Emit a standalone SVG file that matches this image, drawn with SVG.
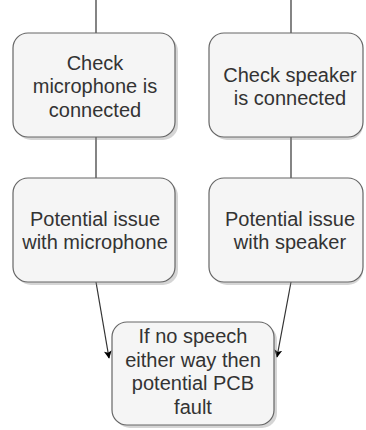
<svg xmlns="http://www.w3.org/2000/svg" width="366" height="430" viewBox="0 0 366 430">
<defs>
<style>
.box{fill:#f5f5f5;stroke:#666666;stroke-width:1.2}
.sh{fill:#888888;opacity:0.35}
.t{font-family:"Liberation Sans",Arial,sans-serif;font-size:20px;fill:#333333;text-anchor:middle}
.ln{stroke:#333333;stroke-width:1.2;fill:none}
</style>
<marker id="ah" viewBox="0 0 10 10" refX="9" refY="5" markerWidth="8" markerHeight="8" orient="auto" markerUnits="userSpaceOnUse">
<path d="M0,0 L10,5 L0,10 L2.5,5 Z" fill="#000000"/>
</marker>
</defs>
<rect width="366" height="430" fill="#ffffff"/>
<g id="connectors">
<line class="ln" x1="96" y1="0" x2="96" y2="33"/>
<line class="ln" x1="291" y1="0" x2="291" y2="33"/>
<line class="ln" x1="96" y1="137" x2="96" y2="178"/>
<line class="ln" x1="291" y1="137" x2="291" y2="178"/>
<line class="ln" x1="96" y1="282" x2="109" y2="358" marker-end="url(#ah)"/>
<line class="ln" x1="291" y1="282" x2="277" y2="357" marker-end="url(#ah)"/>
</g>
<g id="n1">
<rect class="sh" x="16" y="36" width="162" height="104" rx="15"/>
<rect class="box" x="13" y="33" width="162" height="104" rx="15"/>
<text class="t" x="95" y="70">Check</text>
<text class="t" x="95" y="93">microphone is</text>
<text class="t" x="95" y="117">connected</text>
</g>
<g id="n2">
<rect class="sh" x="212" y="36" width="151" height="104" rx="15"/>
<rect class="box" x="209" y="33" width="154" height="104" rx="15"/>
<text class="t" x="290" y="82">Check speaker</text>
<text class="t" x="290" y="105">is connected</text>
</g>
<g id="n3">
<rect class="sh" x="16" y="181" width="162" height="104" rx="15"/>
<rect class="box" x="13" y="178" width="162" height="104" rx="15"/>
<text class="t" x="95" y="226">Potential issue</text>
<text class="t" x="95" y="249">with microphone</text>
</g>
<g id="n4">
<rect class="sh" x="212" y="181" width="151" height="104" rx="15"/>
<rect class="box" x="209" y="178" width="154" height="104" rx="15"/>
<text class="t" x="290" y="226">Potential issue</text>
<text class="t" x="290" y="249">with speaker</text>
</g>
<g id="n5">
<rect class="sh" x="115" y="325" width="162" height="103" rx="15"/>
<rect class="box" x="112" y="322" width="162" height="103" rx="15"/>
<text class="t" x="193" y="343">If no speech</text>
<text class="t" x="193" y="367">either way then</text>
<text class="t" x="193" y="390">potential PCB</text>
<text class="t" x="193" y="414">fault</text>
</g>
</svg>
